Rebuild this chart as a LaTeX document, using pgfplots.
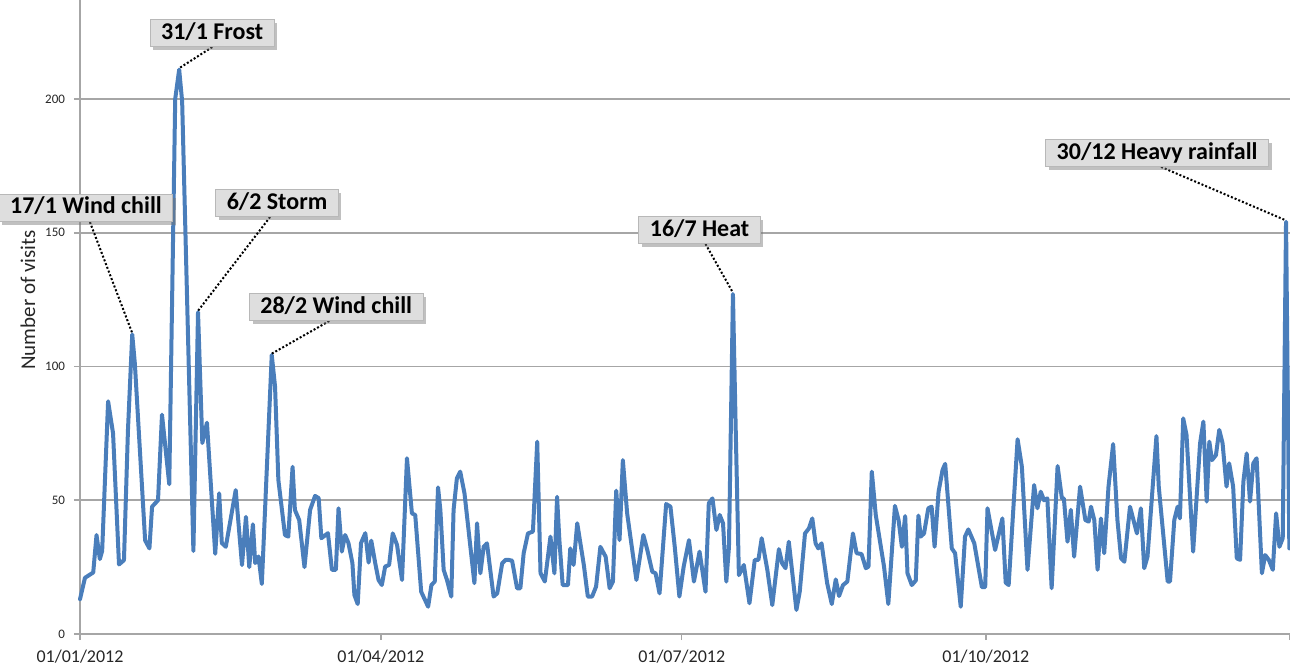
\documentclass[border=0pt]{standalone}
\usepackage{fontspec}
\setmainfont{Carlito}
\usepackage{pgfplots}
\pgfplotsset{compat=1.18}
\usetikzlibrary{shadows}
\definecolor{lineblue}{HTML}{4A7EBB}
\definecolor{gridgray}{HTML}{A6A6A6}
\pgfplotstableread{
day val
0 13
1.5 21
4 23
5 37
6 28
6.7 31
8.5 87
10 75
11.8 26
13.3 27.6
14.5 76
15.8 112
16.6 101
19.7 35
21 32
21.8 47.6
23.6 50
24.8 82
27 56
28.8 200
30 211
30.9 199
34.3 31
35.7 120.3
37 71.4
38.4 79
40.9 30
42.1 52.6
42.9 34
44.1 32.6
47.1 53.8
49 25.8
50.2 43.8
51.2 25
52.3 41
53 26.5
54 29
55 18.7
58 104.3
59 92.5
60 57.6
62 37
63 36.4
64.3 62.5
65 46.4
66.3 42.6
67.9 25
69.6 46.4
71.1 51.6
72.2 50.8
73 35.8
75 37.7
76.2 24
77.4 24
78.2 47
79.2 30.8
80.2 37
81.2 34
82.4 26.5
83 14.6
84 11.2
85 34
86.3 37.7
87.3 26.7
88.1 34.9
89.3 26.5
90.3 20.2
91.3 18.3
92.3 25.2
93.5 25.8
94.6 37.6
95.9 33.3
97.4 20.2
98.9 65.7
100.4 45.1
101.4 44.5
103.2 15.8
105.3 10.2
106.3 18.3
107.3 19.6
108.3 54.8
109 46.4
110 24
111 20.2
112.3 14
113 46.4
114 58.2
115 60.7
116.3 52.6
119.3 19
120.1 41.4
121.1 22.7
122.1 32.6
123.1 33.9
125.1 14
126.2 15.2
127.7 26.4
128.7 27.7
129.7 27.7
130.7 27.4
132.2 17.1
133.2 17.1
134.2 30.2
135.5 37.6
137 38.3
138.3 71.9
139.3 22.7
140.6 19.6
142.3 36.4
143.5 22.7
144.3 51.3
145 35.1
146 18.3
147.6 18.3
148.3 32
149.3 25.8
150.4 41.4
152.4 25.8
153.6 14
154.9 14
156.1 17.7
157.4 32.6
159 28.9
160.2 17.1
161.2 19.6
162.2 53.6
163.2 35.1
164.2 65
165.5 45.1
168.3 20.2
170.4 37
171.6 31.4
173.1 23.3
174.1 22.7
175.3 15.2
177.3 48.6
178.6 47.6
179.9 32.6
181.3 14
182.6 25.2
184.2 35.1
185.7 19.6
187.4 30.8
189.2 15.8
190.2 48.9
191.3 50.7
192.5 38.9
193.5 44.5
194.5 41.4
195.5 19.6
196.3 32.6
197.5 127.1
198.3 78.8
199.3 22
200.8 25.8
202.5 11.5
204.1 27.7
205.2 27.7
206.2 35.8
207.9 24
209.4 10.8
211.4 31.7
212.4 26.4
213.4 24.6
214.4 34.5
216.7 9
217.7 15.8
219.3 37.6
220.5 39.5
221.5 43.2
222.5 33.9
223.3 32
224.3 33.9
226 19
227.4 11.2
228.6 20.4
229.6 14.2
230.8 18.3
232.1 19.6
233.8 37.6
234.9 30.2
236.4 29.9
237.7 24.6
238.5 25.2
239.5 60.7
240.7 44.5
243.2 25.2
244.5 11.2
246.5 47.9
247.6 42.6
248.6 32.6
249.6 44.1
250.3 22.7
251.6 18.3
252.8 20
253.6 44.3
254.3 36.4
255.3 37.6
256.6 47
257.6 47.6
258.5 32.6
259.7 53.2
260.9 61.3
261.7 63.6
263.7 32
264.7 30.2
266.4 10.2
267.7 36.4
268.7 39.1
270.5 33.9
272.8 17.5
273.8 17.5
274.5 47
276.8 31.4
279 43.2
280 19.2
280.9 18.3
283.6 72.8
284.9 62.5
286.6 24
288.6 55.7
289.6 47
290.6 53.2
291.6 50
292.6 50.7
293.9 17.1
295.7 62.8
297 50.7
297.6 50.7
298.7 34.5
299.7 46.4
300.7 28.9
302.5 55.1
304.1 42.6
305.1 42
305.8 47.6
306.8 42.6
307.8 24
308.8 43.2
309.8 30.2
311.1 55.1
312.5 71
313.8 42.6
314.9 28.3
315.9 27
317.6 47.6
319.7 37.6
320.9 47
321.9 24.6
322.9 28.9
325.6 74
326.3 55.1
329 19.6
329.7 19.6
331 42.6
332 47.6
332.7 43.2
333.7 80.6
334.7 74.4
336.7 30.8
338.8 71.3
339.8 79.4
340.8 49.5
341.6 71.9
342.4 65
343.6 66.9
344.6 76.3
345.6 71.3
346.8 55.1
347.6 63.8
348.8 55.1
349.9 28.3
350.9 27.7
351.9 57
352.9 67.5
353.9 49.5
354.9 63.8
355.9 65.7
357.5 22.7
358.5 29.5
359.6 27.7
360.8 24
361.8 45.1
362.8 32.6
363.8 35.8
364.8 154.1
365.8 32
}\visits
\tikzset{
  ann/.style={fill=black!13, draw=black!28, line width=0.4pt,
    font=\fontsize{12}{14}\selectfont\bfseries, text=black,
    inner xsep=5.5pt, inner ysep=0pt, minimum height=13.5pt,
    text height=8.3pt, text depth=2.2pt,
    drop shadow={shadow xshift=1.6pt, shadow yshift=-1.6pt, fill=black!55, opacity=0.45}},
  lead/.style={black, line width=1pt, dash pattern=on 1pt off 1pt}
}
\begin{document}
\begin{tikzpicture}
\begin{axis}[
  scale only axis,
  width=605pt, height=317pt,
  xmin=0, xmax=366, ymin=0, ymax=237,
  axis lines=left,
  axis line style={-, draw=gridgray, line width=0.8pt},
  xtick={0,91,182,274,366},
  xticklabels={01/01/2012,01/04/2012,01/07/2012,01/10/2012,{}},
  ytick={0,50,100,150,200},
  ymajorgrids, grid style={gridgray, line width=0.8pt},
  tick align=outside, major tick length=3pt,
  tick style={gridgray, line width=0.8pt},
  xticklabel style={font=\fontsize{9}{10}\selectfont, text=black!85, yshift=-1.5pt},
  yticklabel style={font=\fontsize{6.5}{7.5}\selectfont, text=black!85, xshift=-1pt},
  /pgf/number format/assume math mode=true,
  ylabel={Number of visits},
  every axis y label/.style={at={(axis description cs:-0.043,0.527)}, rotate=90, anchor=center, font=\fontsize{10.5}{12}\selectfont, text=black!85},
  clip=false,
]
\addplot[lineblue, line width=2pt, line join=round, line cap=round] table[x=day, y=val] {\visits};
\draw[lead] (axis cs:40,219.4) -- (axis cs:30,211.5);
\draw[lead] (axis cs:3,154) -- (axis cs:15.8,112.5);
\draw[lead] (axis cs:57.5,155.9) -- (axis cs:35.7,120.8);
\draw[lead] (axis cs:75.4,117) -- (axis cs:58,104.8);
\draw[lead] (axis cs:189.2,145.8) -- (axis cs:197.5,127.6);
\draw[lead] (axis cs:327,174.6) -- (axis cs:364.8,154.6);
\node[ann] at (axis cs:39.96,224.7) {31/1 Frost};
\node[ann] at (axis cs:1.8,159.3) {17/1 Wind chill};
\node[ann] at (axis cs:59.6,161.1) {6/2 Storm};
\node[ann] at (axis cs:77.5,122.2) {28/2 Wind chill};
\node[ann] at (axis cs:187.4,151) {16/7 Heat};
\node[ann] at (axis cs:325.8,179.8) {30/12 Heavy rainfall};
\end{axis}
\pgfresetboundingbox
\path[use as bounding box] (-40pt,-16pt) rectangle (605pt,317pt);
\end{tikzpicture}
\end{document}
